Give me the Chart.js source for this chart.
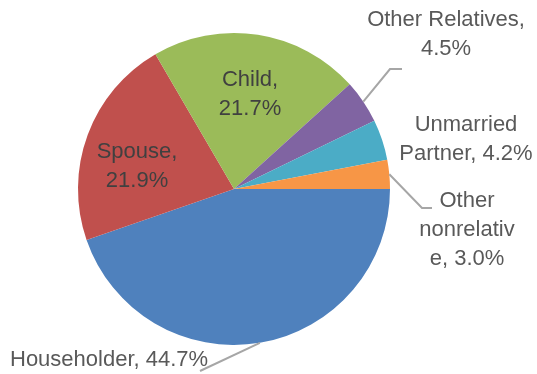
<!DOCTYPE html>
<html lang="en">
<head>
    <meta charset="UTF-8">
    <title>Household Relationship</title>
    <script src="https://cdn.jsdelivr.net/npm/chart.js"></script>
    <style>
        body { margin: 0; background: #fff; }
        canvas { display: block; }
    </style>
</head>
<body>
    <canvas id="relChart" width="537" height="374"></canvas>

    <script>
        // Share of household members by relationship (%)
        const categories = ['Householder', 'Spouse', 'Child', 'Other Relatives', 'Unmarried Partner', 'Other nonrelative'];
        const shares = [44.7, 21.9, 21.7, 4.5, 4.2, 3.0];
        const sliceColors = ['#4f81bd', '#c0504d', '#9bbb59', '#8064a2', '#4bacc6', '#f79646'];

        // How each label wraps, the way Excel wrapped them
        const labelLines = [
            ['Householder, 44.7%'],
            ['Spouse,', '21.9%'],
            ['Child,', '21.7%'],
            ['Other Relatives,', '4.5%'],
            ['Unmarried', 'Partner, 4.2%'],
            ['Other', 'nonrelativ', 'e, 3.0%']
        ];

        // where the label text sits (first line), and where its leader line ends
        const labelPlace = [
            { x: 10, y: 360, align: 'left', color: '#595959', leader: [[200, 371]] },
            { x: 137, y: 152, align: 'center', color: '#404040' },
            { x: 250, y: 80, align: 'center', color: '#404040' },
            { x: 446, y: 20, align: 'center', color: '#595959', leader: [[390, 69], [402, 69]] },
            { x: 466, y: 125, align: 'center', color: '#595959' },
            { x: 467, y: 201, align: 'center', color: '#595959', leader: [[422, 208], [432, 208]] }
        ];

        const FONT = '22px "Liberation Sans", Arial, sans-serif';
        const LINE_H = 29;

        const pieLabels = {
            id: 'pieLabels',
            afterDraw(chart) {
                const ctx = chart.ctx;
                const arcs = chart.getDatasetMeta(0).data;
                ctx.save();
                arcs.forEach((arc, i) => {
                    const p = labelPlace[i];
                    if (p.leader) {
                        const mid = (arc.startAngle + arc.endAngle) / 2;
                        ctx.beginPath();
                        ctx.moveTo(arc.x + Math.cos(mid) * arc.outerRadius, arc.y + Math.sin(mid) * arc.outerRadius);
                        p.leader.forEach(pt => ctx.lineTo(pt[0], pt[1]));
                        ctx.strokeStyle = '#a6a6a6';
                        ctx.lineWidth = 2;
                        ctx.stroke();
                    }
                    ctx.font = FONT;
                    ctx.fillStyle = p.color;
                    ctx.textAlign = p.align;
                    ctx.textBaseline = 'middle';
                    labelLines[i].forEach((line, k) => {
                        ctx.fillText(line, p.x, p.y + k * LINE_H);
                    });
                });
                ctx.restore();
            }
        };

        const ctx = document.getElementById('relChart').getContext('2d');
        const chart = new Chart(ctx, {
            type: 'pie',
            data: {
                labels: categories,
                datasets: [{
                    data: shares,
                    backgroundColor: sliceColors,
                    borderWidth: 0
                }]
            },
            options: {
                responsive: false,
                animation: false,
                rotation: 90,
                layout: {
                    padding: { left: 78, right: 147, top: 33, bottom: 29 }
                },
                plugins: {
                    legend: { display: false },
                    tooltip: { enabled: false }
                }
            },
            plugins: [pieLabels]
        });
    </script>
</body>
</html>
